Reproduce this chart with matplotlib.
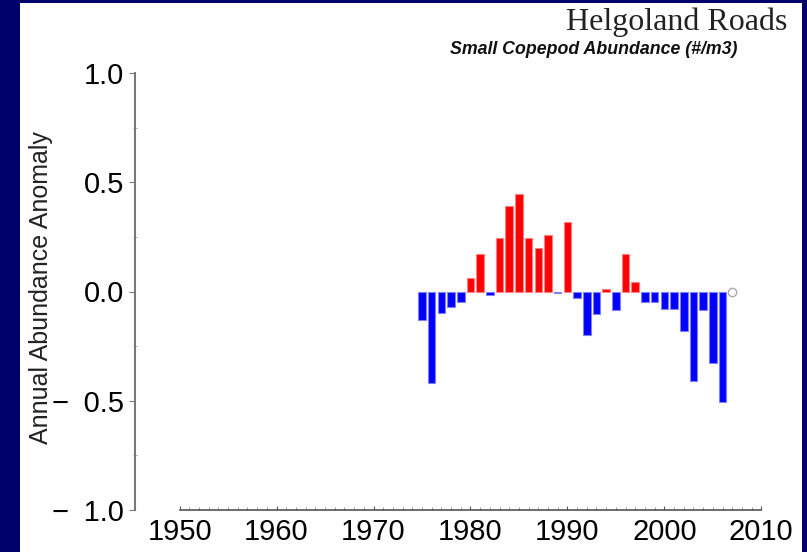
import matplotlib
matplotlib.use("Agg")
import matplotlib.pyplot as plt
from matplotlib.patches import Rectangle
from matplotlib.ticker import FixedLocator, MultipleLocator
import numpy as np

# annual anomalies
years = list(range(1975, 2007))
anomaly = [-0.13, -0.42, -0.10, -0.07, -0.05, 0.06, 0.17, -0.015, 0.245, 0.39,
           0.445, 0.245, 0.20, 0.26, -0.008, 0.32, -0.03, -0.20, -0.105, 0.01,
           -0.085, 0.17, 0.045, -0.05, -0.05, -0.078, -0.078, -0.18, -0.41, -0.085,
           -0.325, -0.505]
missing_year = [2007]
missing_val = [0.0]
xticks = [1950, 1960, 1970, 1980, 1990, 2000, 2010]
yticks = [-1.0, -0.5, 0.0, 0.5, 1.0]
ytick_labels = ['\u2212\u20021.0', '\u2212\u20020.5', '0.0', '0.5', '1.0']

plt.rcParams['font.family'] = ['Liberation Sans', 'DejaVu Sans']

fig = plt.figure(figsize=(8.07, 5.52), dpi=100)
fig.patch.set_facecolor('#00006b')
# white panel inside the navy frame
fig.patches.append(Rectangle((20 / 807, 0), (802 - 20) / 807, 1 - 3 / 552,
                             transform=fig.transFigure, facecolor='white',
                             edgecolor='none', zorder=-5))

ax = fig.add_axes([135 / 807, 42 / 552, 636 / 807, 437 / 552])
ax.set_facecolor('none')

vals = np.array(anomaly)
cols = np.where(vals >= 0, '#ff0000', '#0000ff')
edges = np.where(vals >= 0, '#ff8080', '#8080ff')
ax.bar(years, vals, width=0.78, color=cols, edgecolor=edges, linewidth=0.8)
ax.plot(missing_year, missing_val, 'o', mfc='none', mec='#aaaaaa', ms=6, mew=1)

ax.set_xlim(1945.4, 2011)
ax.set_ylim(-1.0, 1.0)

for s in ['top', 'right']:
    ax.spines[s].set_visible(False)
ax.spines['left'].set_color('#777777')
ax.spines['left'].set_linewidth(1.5)
ax.spines['bottom'].set_color('#555555')
ax.spines['bottom'].set_linewidth(1.2)
ax.spines['bottom'].set_bounds(1950, 2010)

ax.set_xticks(xticks)
ax.set_xticklabels([str(x) for x in xticks])
ax.xaxis.set_minor_locator(FixedLocator(list(range(1950, 2011))))
ax.tick_params(axis='x', which='major', direction='in', length=3, color='#555555',
               labelsize=21, pad=6)
ax.tick_params(axis='x', which='minor', direction='in', length=2, color='#888888')

ax.set_yticks(yticks)
ax.set_yticklabels(ytick_labels)
ax.yaxis.set_minor_locator(MultipleLocator(0.25))
ax.tick_params(axis='y', which='major', direction='out', length=4, color='#777777',
               labelsize=21, pad=4)
ax.tick_params(axis='y', which='minor', direction='inout', length=3, color='#999999')

ax.set_ylabel('Annual Abundance Anomaly', fontsize=18, color='#222222')
ax.yaxis.set_label_coords(-0.129, 0.51)

fig.text(787 / 807, 1 - 22 / 552, 'Helgoland Roads', family='Liberation Serif',
         fontsize=23, ha='right', va='center', color='#222222')
fig.text(737 / 807, 1 - 49 / 552, 'Small Copepod Abundance (#/m3)', fontsize=12.8,
         fontweight='bold', fontstyle='italic', ha='right', va='center', color='#111111')

fig.savefig('out.png', dpi=100, facecolor=fig.get_facecolor())
